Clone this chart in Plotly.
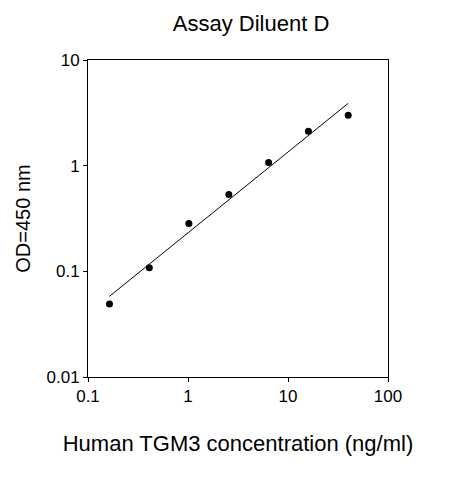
import numpy as np
import plotly.graph_objects as go

conc = [0.164, 0.41, 1.02, 2.56, 6.4, 16, 40]
od = [0.049, 0.108, 0.283, 0.533, 1.07, 2.12, 3.0]

# power fit in log space
b, a = np.polyfit(np.log10(conc), np.log10(od), 1)
fit_x = np.array([conc[0], conc[-1]])
fit_y = 10 ** (a + b * np.log10(fit_x))

fig = go.Figure()
fig.add_trace(go.Scatter(x=fit_x, y=fit_y, mode="lines",
                         line=dict(color="black", width=1), hoverinfo="skip"))
fig.add_trace(go.Scatter(x=conc, y=od, mode="markers",
                         marker=dict(color="black", size=7)))

axis_common = dict(type="log", showgrid=False, zeroline=False, showline=True,
                   linecolor="black", linewidth=1, mirror=True, ticks="outside",
                   ticklen=4, tickcolor="black", tickfont=dict(size=17, color="black"))
fig.update_xaxes(range=[-1, 2], tickvals=[0.1, 1, 10, 100], ticktext=["0.1", "1", "10", "100"],
                 title=dict(text="Human TGM3 concentration (ng/ml)", font=dict(size=22, color="black"),
                            standoff=30), **axis_common)
fig.update_yaxes(range=[-2, 1], tickvals=[0.01, 0.1, 1, 10], ticktext=["0.01", "0.1", "1", "10"],
                 title=dict(text="OD=450 nm", font=dict(size=20, color="black"), standoff=10),
                 **axis_common)
fig.update_layout(
    width=463, height=480, showlegend=False,
    font=dict(family="Liberation Sans, Arial, sans-serif"),
    plot_bgcolor="white", paper_bgcolor="white",
    margin=dict(l=80, r=83, t=52, b=111),
    title=dict(text="Assay Diluent D", x=0.525, xanchor="center", y=0.985, yanchor="top",
               font=dict(size=22, color="black")),
)
fig.write_html("out.html")
